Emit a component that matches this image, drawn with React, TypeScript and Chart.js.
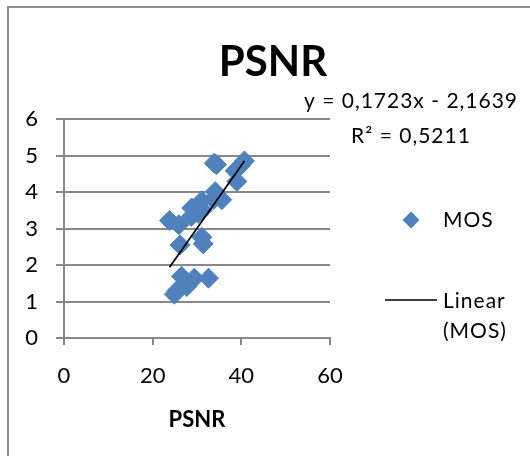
import React, { useEffect, useRef } from "react";
import { Chart, registerables } from "chart.js";

Chart.register(...registerables);

// ---- data ----
const PSNR_VALUES = [33.9, 34.4, 40.7, 39.8, 38.6, 39.0, 34.1, 33.7, 35.6, 31.1, 28.8, 30.3, 28.7, 31.2, 23.8, 25.9, 26.2, 31.1, 31.4, 26.5, 29.4, 32.6, 27.7, 24.9, 25.5];
const MOS_VALUES = [4.79, 4.75, 4.85, 4.72, 4.58, 4.29, 4.01, 3.79, 3.79, 3.76, 3.56, 3.42, 3.33, 3.5, 3.22, 3.1, 2.55, 2.76, 2.58, 1.69, 1.64, 1.64, 1.41, 1.2, 1.3];
const TREND_SLOPE = 0.1723;
const TREND_INTERCEPT = -2.1639;
const X_TICKS = [0, 20, 40, 60];
const Y_TICKS = [0, 1, 2, 3, 4, 5, 6];
const CHART_TITLE = "PSNR";
const X_AXIS_TITLE = "PSNR";
const EQUATION_TEXT = "y = 0,1723x - 2,1639";
const R2_TEXT = "R² = 0,5211";
const SERIES_NAME = "MOS";
const TREND_NAME = ["Linear", "(MOS)"];

const FONT = "Lato, 'Open Sans', sans-serif";
const BLUE = "#4F81BD";
const GRID = "#888888";

const decorPlugin = {
  id: "decor",
  afterDraw(chart: any) {
    const ctx = chart.ctx;
    ctx.save();
    // frame
    ctx.strokeStyle = "#8c8c8c";
    ctx.lineWidth = 2;
    ctx.beginPath();
    ctx.moveTo(8, 460);
    ctx.lineTo(8, 7);
    ctx.lineTo(540, 7);
    ctx.stroke();

    ctx.fillStyle = "#000";
    ctx.textBaseline = "alphabetic";
    // title
    ctx.font = `bold 42px ${FONT}`;
    ctx.textAlign = "center";
    ctx.fillText(CHART_TITLE, 273, 76);
    // x axis title
    ctx.font = `bold 22px ${FONT}`;
    ctx.fillText(X_AXIS_TITLE, 197, 427);
    // equation
    ctx.font = `21px ${FONT}`;
    (ctx as any).letterSpacing = "1px";
    ctx.fillText(EQUATION_TEXT, 411, 108);
    ctx.fillText(R2_TEXT, 411, 143);

    // legend
    ctx.textAlign = "left";
    ctx.fillStyle = BLUE;
    ctx.beginPath();
    const lx = 411, ly = 220, r = 8.5;
    ctx.moveTo(lx - r, ly);
    ctx.lineTo(lx, ly - r);
    ctx.lineTo(lx + r, ly);
    ctx.lineTo(lx, ly + r);
    ctx.closePath();
    ctx.fill();
    ctx.fillStyle = "#000";
    ctx.fillText(SERIES_NAME, 443, 227);
    ctx.strokeStyle = "#000";
    ctx.lineWidth = 1.5;
    ctx.beginPath();
    ctx.moveTo(385, 300);
    ctx.lineTo(437, 300);
    ctx.stroke();
    ctx.fillText(TREND_NAME[0], 443, 308);
    ctx.fillText(TREND_NAME[1], 443, 338);
    (ctx as any).letterSpacing = "0px";
    ctx.restore();
  },
};

export default function App() {
  const ref = useRef<HTMLCanvasElement | null>(null);
  useEffect(() => {
    if (!ref.current) return;
    const points = PSNR_VALUES.map((x, i) => ({ x, y: MOS_VALUES[i] }));
    const minX = Math.min(...PSNR_VALUES);
    const maxX = Math.max(...PSNR_VALUES);
    const trend = [
      { x: minX, y: TREND_SLOPE * minX + TREND_INTERCEPT },
      { x: maxX, y: TREND_SLOPE * maxX + TREND_INTERCEPT },
    ];
    const chart = new Chart(ref.current, {
      type: "scatter",
      data: {
        datasets: [
          {
            type: "line",
            label: "Linear (MOS)",
            data: trend,
            borderColor: "#000",
            borderWidth: 1.75,
            pointRadius: 0,
            fill: false,
            order: 0,
          } as any,
          {
            label: SERIES_NAME,
            data: points,
            backgroundColor: BLUE,
            borderColor: BLUE,
            borderWidth: 1,
            pointStyle: "rectRot",
            pointRadius: 10,
            order: 1,
          },
        ],
      },
      options: {
        responsive: false,
        animation: false,
        devicePixelRatio: 1,
        layout: { padding: { left: 0, top: 119, right: 200, bottom: 0 } },
        plugins: { legend: { display: false }, title: { display: false }, tooltip: { enabled: false } },
        scales: {
          x: {
            type: "linear",
            min: X_TICKS[0],
            max: X_TICKS[X_TICKS.length - 1],
            afterBuildTicks: (s: any) => { s.ticks = X_TICKS.map((v) => ({ value: v })); },
            afterFit: (s: any) => { s.height = 118; },
            grid: { drawOnChartArea: false, drawTicks: true, tickLength: 7, color: GRID, lineWidth: 2 },
            border: { display: true, color: GRID, width: 2 },
            ticks: { color: "#000", font: { family: FONT, size: 22 }, padding: 18, maxRotation: 0 },
          },
          y: {
            type: "linear",
            min: Y_TICKS[0],
            max: Y_TICKS[Y_TICKS.length - 1],
            afterBuildTicks: (s: any) => { s.ticks = Y_TICKS.map((v) => ({ value: v })); },
            afterFit: (s: any) => { s.width = 64; },
            grid: { drawOnChartArea: true, drawTicks: true, tickLength: 8, color: GRID, lineWidth: 2 },
            border: { display: true, color: GRID, width: 2 },
            ticks: { color: "#000", font: { family: FONT, size: 22 }, padding: 18 },
          },
        },
      },
      plugins: [decorPlugin],
    });
    return () => chart.destroy();
  }, []);
  return (
    <div style={{ position: "fixed", left: 0, top: 0, background: "#fff" }}>
      <canvas ref={ref} width={530} height={456} style={{ display: "block" }} />
    </div>
  );
}
